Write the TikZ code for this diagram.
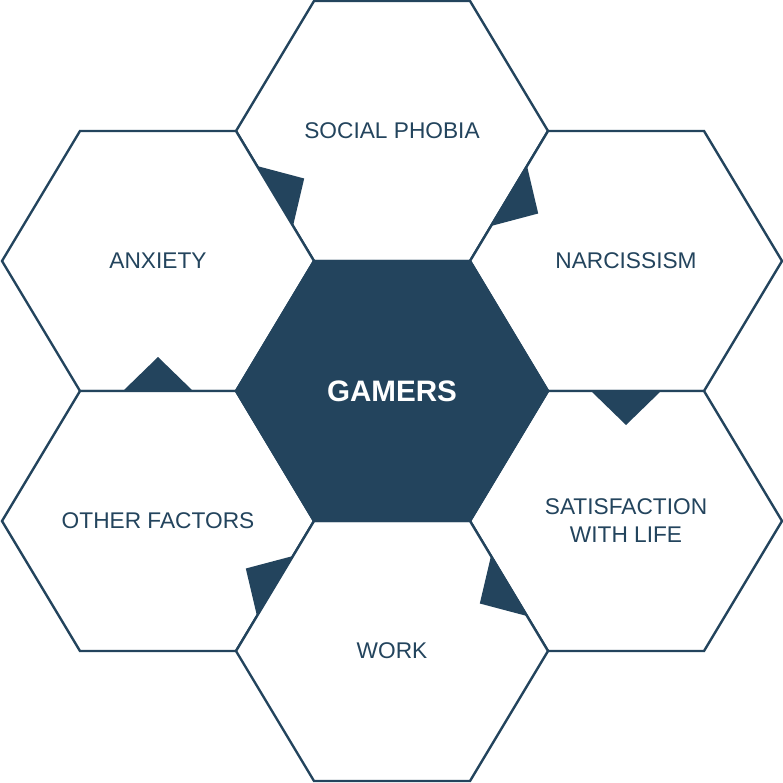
\documentclass[tikz,border=0pt]{standalone}
\usepackage{fontspec}
\setmainfont{Liberation Sans}
\usetikzlibrary{calc}
\definecolor{navy}{HTML}{23445D}
\tikzset{
  hexline/.style={draw=navy, line width=2.4pt, line join=miter, fill=white},
  hexdark/.style={draw=navy, line width=2.4pt, line join=miter, fill=navy},
  lbl/.style={text=navy, font=\fontsize{22.7}{28}\selectfont, align=center, inner sep=0pt},
  lblc/.style={text=white, font=\fontsize{29.6}{34}\selectfont\bfseries, align=center, inner sep=0pt},
  notch/.style={fill=navy, draw=none}
}
\newcommand{\hexdraw}[2]{\path[#1] (#2) ++(-156,0) -- ++(78,-130) -- ++(156,0) -- ++(78,130) -- ++(-78,130) -- ++(-156,0) -- cycle;}
\begin{document}
\begin{tikzpicture}[x=1pt,y=-1pt]
\useasboundingbox (0,0) rectangle (783,783);
% centres
\coordinate (cC) at (392,391);
\coordinate (cS) at (392,131);
\coordinate (cW) at (392,651);
\coordinate (cA) at (158,261);
\coordinate (cN) at (626,261);
\coordinate (cO) at (158,521);
\coordinate (cF) at (626,521);
% hexagons
\hexdraw{hexline}{cS}
\hexdraw{hexline}{cA}
\hexdraw{hexline}{cN}
\hexdraw{hexline}{cO}
\hexdraw{hexline}{cF}
\hexdraw{hexline}{cW}
\hexdraw{hexdark}{cC}
% notches (pointing clockwise)
\fill[notch] (257,166) -- (304.2,178.5) -- (293,226) -- cycle;
\fill[notch] (527,166) -- (538.2,213.5) -- (491,226) -- cycle;
\fill[notch] (591,391) -- (626,425) -- (661,391) -- cycle;
\fill[notch] (491,556) -- (479.8,603.5) -- (527,616) -- cycle;
\fill[notch] (257,616) -- (245.8,568.5) -- (293,556) -- cycle;
\fill[notch] (123,391) -- (158,357) -- (193,391) -- cycle;
% labels
\node[lblc] (gamers) at (cC) {GAMERS};
\node[lbl] (social) at (cS) {SOCIAL PHOBIA};
\node[lbl] (anx) at (cA) {ANXIETY};
\node[lbl] (narc) at (cN) {NARCISSISM};
\node[lbl] (other) at (cO) {OTHER FACTORS};
\node[lbl] (sat) at (cF) {SATISFACTION\\WITH LIFE};
\node[lbl] (work) at (cW) {WORK};
\end{tikzpicture}
\end{document}
